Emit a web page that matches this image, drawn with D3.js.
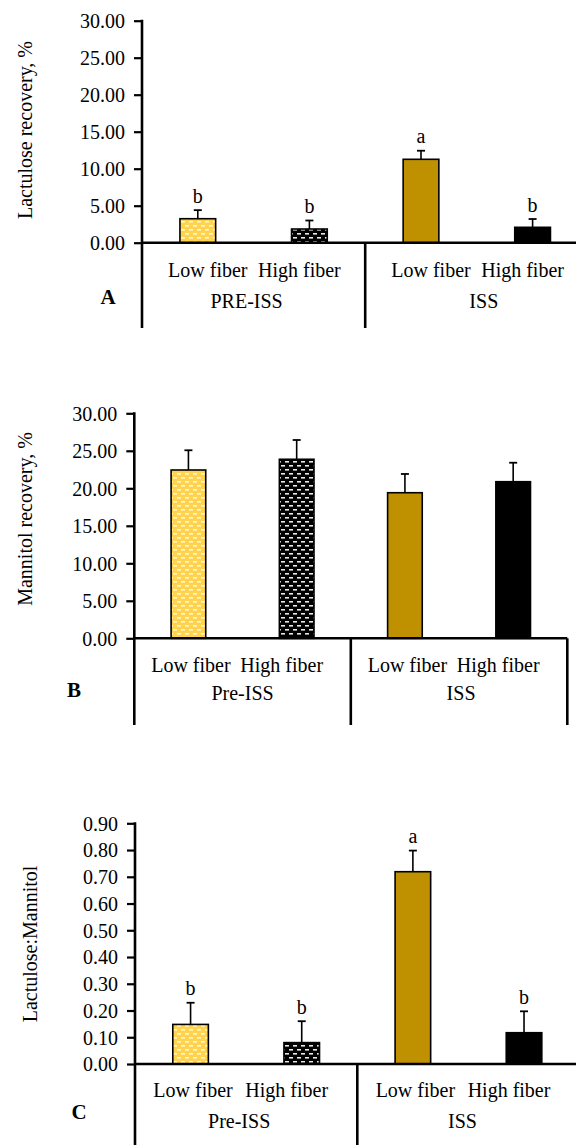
<!DOCTYPE html>
<html>
<head>
<meta charset="utf-8">
<script src="https://cdn.jsdelivr.net/npm/d3@7"></script>
<style>
  body{margin:0;background:#fff;}
  svg text{font-family:"Liberation Serif","Times New Roman",serif;fill:#000;}
</style>
</head>
<body>
<svg id="chart" width="576" height="1145"></svg>
<script>
// data
const categories = ['Low fiber','High fiber','Low fiber','High fiber'];
const groupsA = ['PRE-ISS','ISS'];
const groupsBC = ['Pre-ISS','ISS'];

const lactuloseMean = [3.24, 1.85, 11.27, 2.08];
const lactuloseErr  = [1.16, 1.15, 1.16, 1.12];
const lactuloseSig  = ['b','b','a','b'];

const mannitolMean = [22.44, 23.87, 19.41, 20.88];
const mannitolErr  = [2.63, 2.57, 2.50, 2.53];

const ratioMean = [0.148, 0.080, 0.719, 0.117];
const ratioErr  = [0.081, 0.080, 0.079, 0.080];
const ratioSig  = ['b','b','a','b'];

const ticksPct = [0,5,10,15,20,25,30];
const ticksRatio = [0,0.1,0.2,0.3,0.4,0.5,0.6,0.7,0.8,0.9];

const svg = d3.select('#chart');
const defs = svg.append('defs');

// brick-like dash patterns
function dashPattern(id,bg,fg){
  const p = defs.append('pattern').attr('id',id).attr('patternUnits','userSpaceOnUse')
    .attr('width',8).attr('height',8);
  p.append('rect').attr('width',8).attr('height',8).attr('fill',bg);
  p.append('rect').attr('x',1).attr('y',1).attr('width',4).attr('height',1.6).attr('fill',fg);
  p.append('rect').attr('x',5).attr('y',5).attr('width',4).attr('height',1.6).attr('fill',fg);
  p.append('rect').attr('x',-3).attr('y',5).attr('width',4).attr('height',1.6).attr('fill',fg);
}
dashPattern('yel','#FFD34D','#FFF6D8');
dashPattern('blk','#000','#E8E8E8');
const fills = ['url(#yel)','url(#blk)','#BF9000','#000'];

function drawPanel(o){
  const g = svg.append('g');
  const y = d3.scaleLinear().domain([0,o.max]).range([o.yZero,o.yTop]);
  const x = d3.scaleBand().domain(d3.range(categories.length)).range([o.x0,o.x1])
    .paddingInner(0.68).paddingOuter(0.34);
  const step = x.step();

  // y axis
  const ya = g.append('g').attr('transform',`translate(${o.x0},0)`)
    .call(d3.axisLeft(y).tickValues(o.ticks).tickFormat(d3.format('.2f')).tickSize(8).tickPadding(9));
  ya.select('.domain').remove();
  ya.selectAll('.tick line').attr('stroke','#000').attr('stroke-width',2.2);
  ya.selectAll('.tick text').style('font-size','20px').attr('dy','0.34em');

  // bars
  g.selectAll('rect.bar').data(o.mean).join('rect').attr('class','bar')
    .attr('x',(d,i)=>x(i)).attr('width',x.bandwidth())
    .attr('y',d=>y(d)).attr('height',d=>o.yZero-y(d))
    .attr('fill',(d,i)=>fills[i]).attr('stroke','#000').attr('stroke-width',1.6);

  // error bars (upper only)
  const cx = i=>x(i)+x.bandwidth()/2;
  g.selectAll('line.err').data(o.mean).join('line').attr('class','err')
    .attr('x1',(d,i)=>cx(i)).attr('x2',(d,i)=>cx(i))
    .attr('y1',d=>y(d)).attr('y2',(d,i)=>y(d+o.err[i]))
    .attr('stroke','#000').attr('stroke-width',1.6);
  g.selectAll('line.cap').data(o.mean).join('line').attr('class','cap')
    .attr('x1',(d,i)=>cx(i)-4).attr('x2',(d,i)=>cx(i)+4)
    .attr('y1',(d,i)=>y(d+o.err[i])).attr('y2',(d,i)=>y(d+o.err[i]))
    .attr('stroke','#000').attr('stroke-width',1.8);

  if(o.sig){
    g.selectAll('text.sig').data(o.sig).join('text').attr('class','sig')
      .attr('x',(d,i)=>cx(i)).attr('y',(d,i)=>y(o.mean[i]+o.err[i])-7.5)
      .attr('text-anchor','middle').style('font-size','20px').text(d=>d);
  }

  // axes lines
  g.append('line').attr('x1',o.x0).attr('x2',o.x0).attr('y1',o.yTop-1).attr('y2',o.yBottom)
    .attr('stroke','#000').attr('stroke-width',2.6);
  g.append('line').attr('x1',o.x0).attr('x2',o.x1).attr('y1',o.yZero).attr('y2',o.yZero)
    .attr('stroke','#000').attr('stroke-width',2.6);
  [o.x0+2*step, o.x1].forEach(xx=>{
    g.append('line').attr('x1',xx).attr('x2',xx).attr('y1',o.yZero).attr('y2',o.yBottom)
      .attr('stroke','#000').attr('stroke-width',2.6);
  });

  // category labels
  g.selectAll('text.cat').data(categories).join('text').attr('class','cat')
    .attr('x',(d,i)=>cx(i)+(i%2===0?o.lowShift:o.highShift)).attr('y',o.catY)
    .attr('text-anchor','middle').style('font-size','20px').text(d=>d);
  g.selectAll('text.grp').data(o.groups).join('text').attr('class','grp')
    .attr('x',(d,i)=>o.x0+step*(2*i+1)+o.grpShift[i]).attr('y',o.grpY)
    .attr('text-anchor','middle').style('font-size','20px').text(d=>d);

  // panel letter
  g.append('text').attr('x',o.letterX).attr('y',o.letterY).attr('text-anchor','middle')
    .style('font-size','21px').style('font-weight','bold').text(o.letter);

  // y title
  g.append('text').attr('transform',`translate(${o.titleX},${o.titleY}) rotate(-90)`)
    .attr('text-anchor','middle').attr('dy','0.35em').style('font-size','20px').text(o.title);
}

drawPanel({mean:lactuloseMean, err:lactuloseErr, sig:lactuloseSig, max:30, ticks:ticksPct,
  x0:142, x1:588.4, yTop:20.7, yZero:242.7, yBottom:328, catY:277, grpY:308,
  lowShift:10, highShift:-10, groups:groupsA, grpShift:[-7,7],
  letter:'A', letterX:108, letterY:304, title:'Lactulose recovery, %', titleX:25, titleY:130});

drawPanel({mean:mannitolMean, err:mannitolErr, sig:null, max:30, ticks:ticksPct,
  x0:134.3, x1:567.3, yTop:413.3, yZero:638.3, yBottom:725, catY:671.7, grpY:700,
  lowShift:2.5, highShift:-15, groups:groupsBC, grpShift:[0,2],
  letter:'B', letterX:74, letterY:697, title:'Mannitol recovery, %', titleX:25, titleY:519});

drawPanel({mean:ratioMean, err:ratioErr, sig:ratioSig, max:0.9, ticks:ticksRatio,
  x0:135, x1:579.6, yTop:823.3, yZero:1064, yBottom:1150, catY:1096.7, grpY:1128.3,
  lowShift:2.5, highShift:-15, groups:groupsBC, grpShift:[-7,-6],
  letter:'C', letterX:79, letterY:1119, title:'Lactulose:Mannitol', titleX:29.5, titleY:944});
</script>
</body>
</html>
